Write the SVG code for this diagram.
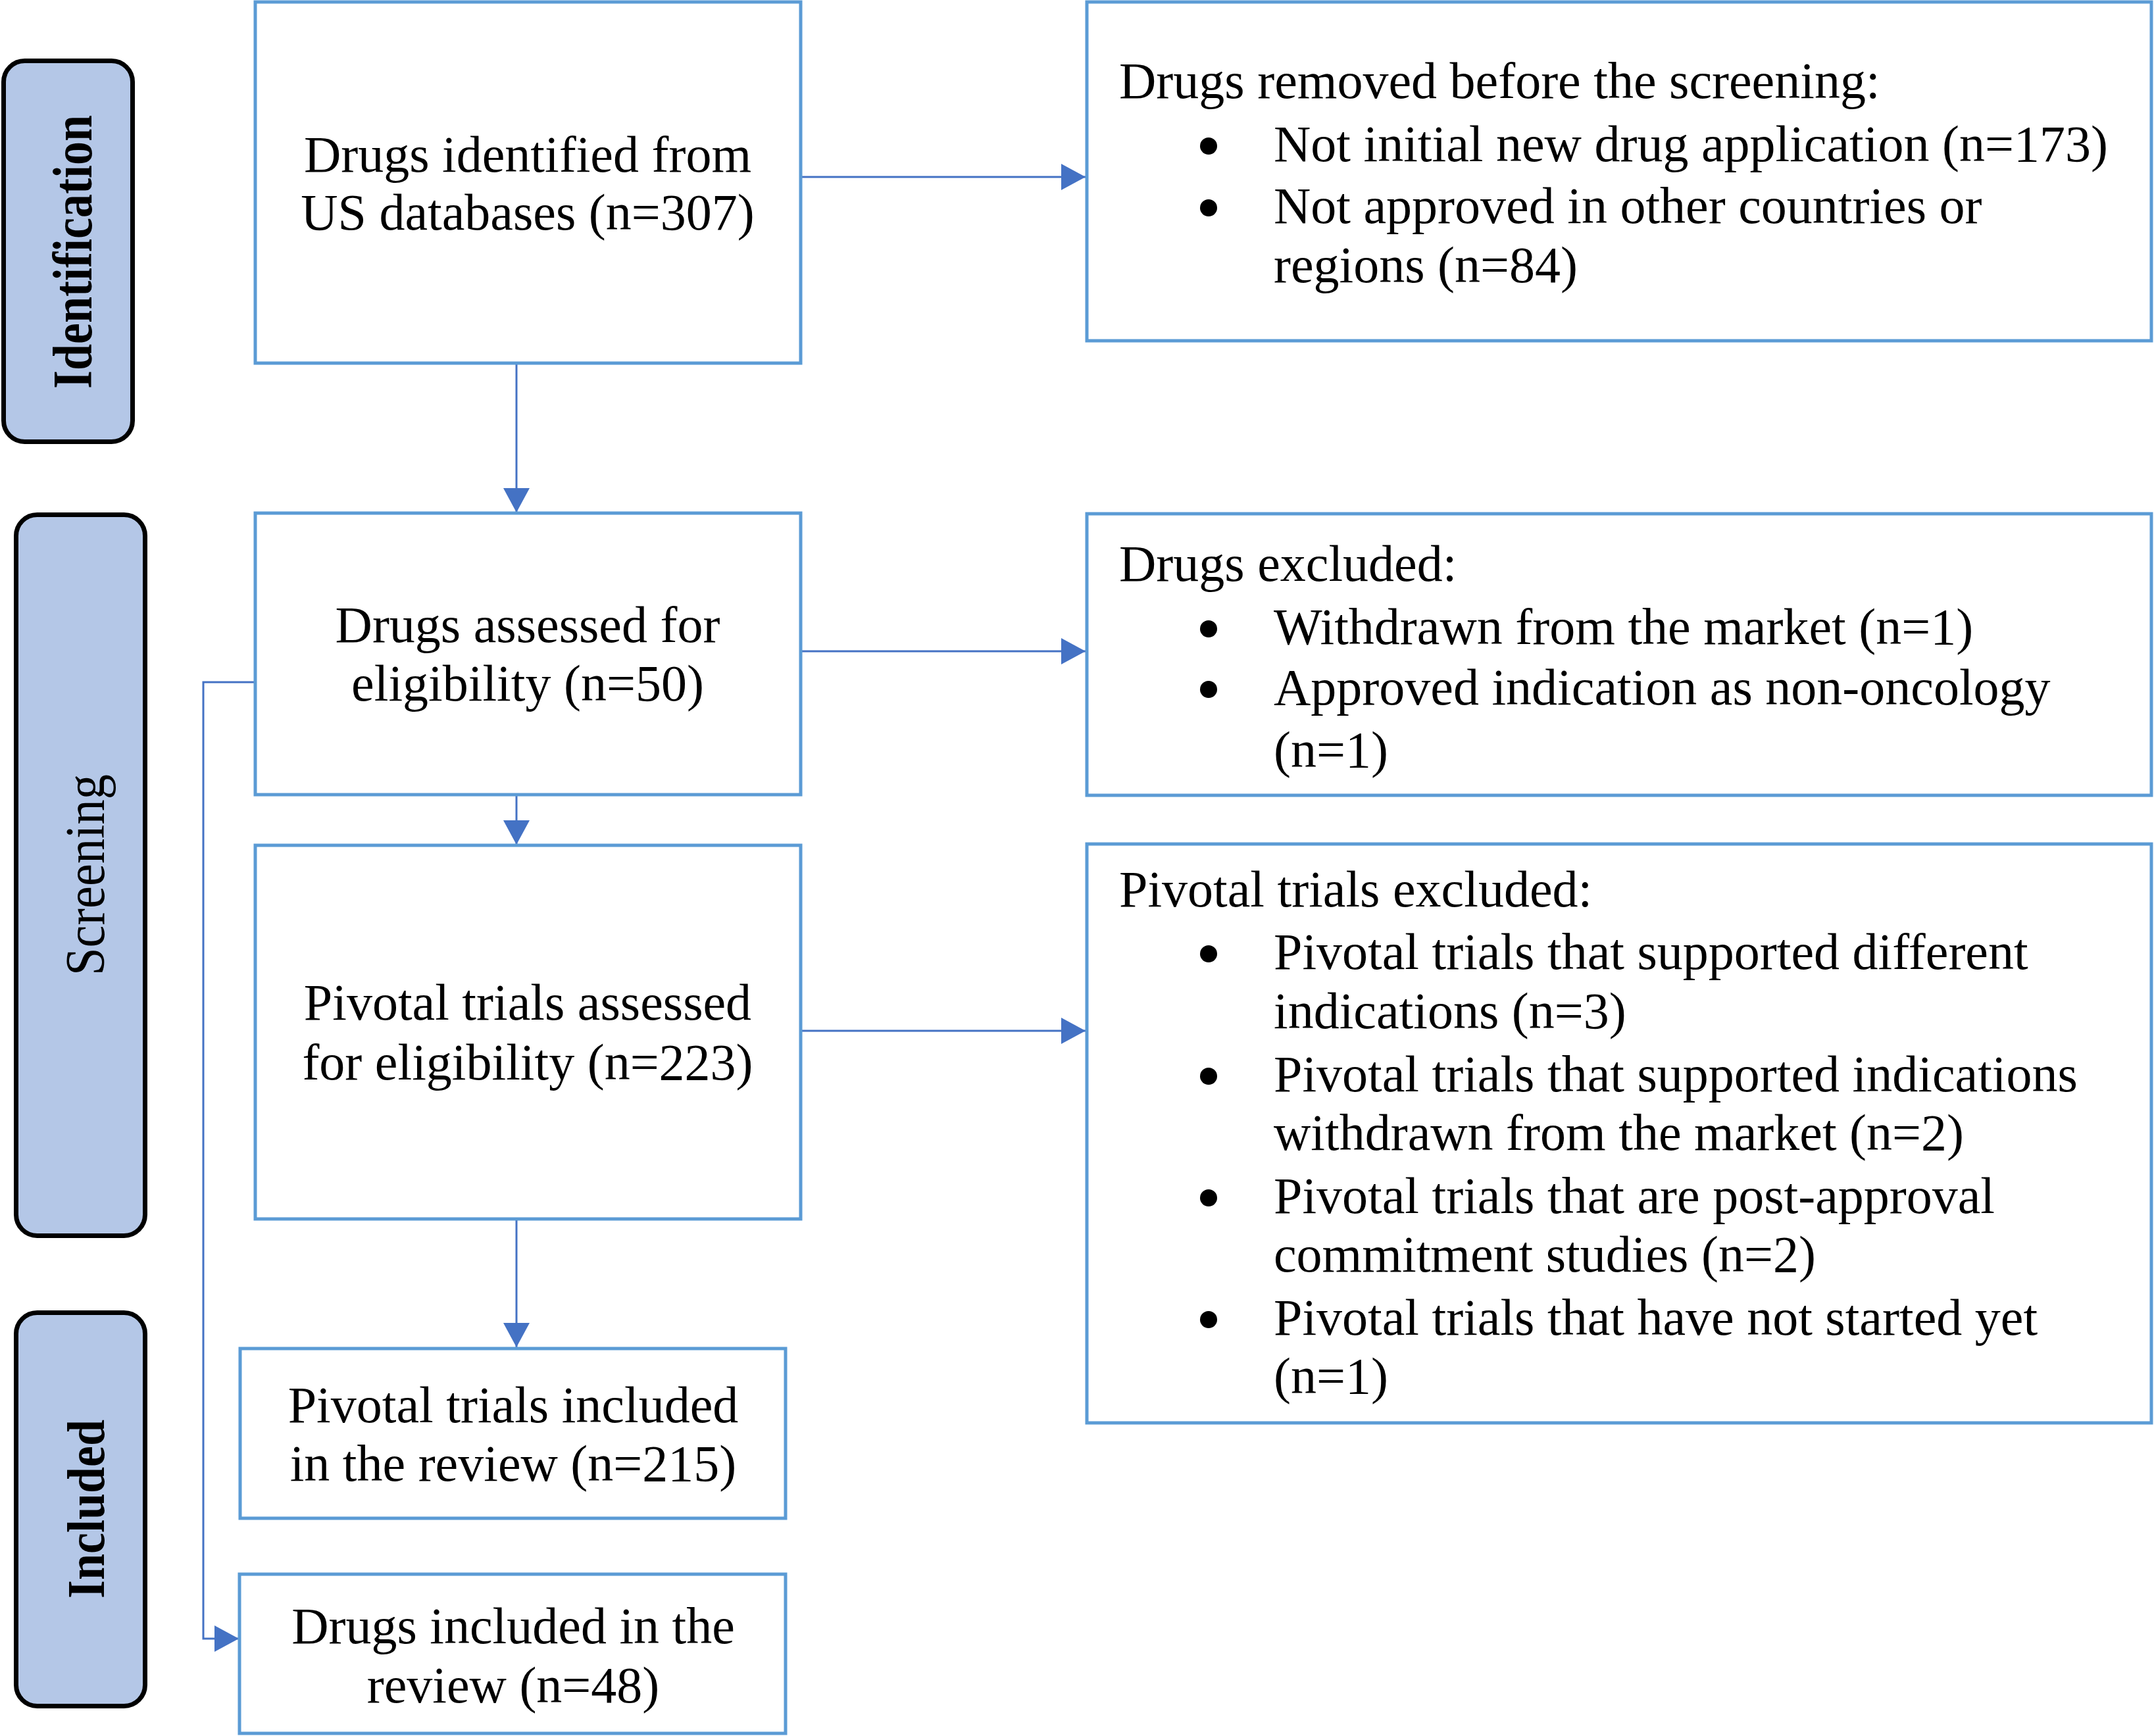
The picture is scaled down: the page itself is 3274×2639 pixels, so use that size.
<svg xmlns="http://www.w3.org/2000/svg" width="3274" height="2639" viewBox="0 0 3274 2639">
<style>
.box{fill:#FFFFFF;stroke:#5B9BD5;stroke-width:5}
.lab{fill:#B4C7E7;stroke:#000000;stroke-width:7}
.t{font-family:"Liberation Serif","Times New Roman",serif;font-size:78px;fill:#000000}
.c{text-anchor:middle}
.lt{font-family:"Liberation Serif","Times New Roman",serif;fill:#000000;text-anchor:middle}
.conn{fill:none;stroke:#4472C4;stroke-width:3}
.dot{fill:#000000}
</style>
<defs>
<marker id="ah" viewBox="0 0 37 40" refX="37" refY="20" markerWidth="37" markerHeight="40" markerUnits="userSpaceOnUse" orient="auto">
<path d="M0,0 L37,20 L0,40 Z" fill="#4472C4"/>
</marker>
</defs>
<rect width="3274" height="2639" fill="#FFFFFF"/>

<g id="label-identification">
<rect class="lab" x="5.5" y="92.5" width="196" height="579" rx="32"/>
<text class="lt" font-weight="bold" font-size="72" transform="translate(139,383) rotate(-90) scale(1,1.17)">Identification</text>
</g>
<g id="label-screening">
<rect class="lab" x="24.5" y="782.5" width="196" height="1096" rx="32"/>
<text class="lt" font-size="76.5" transform="translate(158,1330) rotate(-90) scale(1,1.1)">Screening</text>
</g>
<g id="label-included">
<rect class="lab" x="24.5" y="1995.5" width="196" height="598" rx="32"/>
<text class="lt" font-weight="bold" font-size="72" transform="translate(158,2294) rotate(-90) scale(1,1.13)">Included</text>
</g>

<g id="connectors">
<line class="conn" x1="1217" y1="269" x2="1650" y2="269" marker-end="url(#ah)"/>
<line class="conn" x1="785" y1="552" x2="785" y2="779" marker-end="url(#ah)"/>
<line class="conn" x1="1217" y1="990" x2="1650" y2="990" marker-end="url(#ah)"/>
<line class="conn" x1="785" y1="1208" x2="785" y2="1284" marker-end="url(#ah)"/>
<line class="conn" x1="1217" y1="1567" x2="1650" y2="1567" marker-end="url(#ah)"/>
<line class="conn" x1="785" y1="1853" x2="785" y2="2048" marker-end="url(#ah)"/>
<polyline class="conn" points="388,1037 309,1037 309,2491 363,2491" marker-end="url(#ah)"/>
</g>

<g id="node-identified">
<rect class="box" x="388" y="3" width="829" height="549"/>
<text class="t c" x="802" y="261">Drugs identified from</text>
<text class="t c" x="802" y="349">US databases (n=307)</text>
</g>

<g id="node-removed">
<rect class="box" x="1652" y="3" width="1618" height="515"/>
<text class="t" x="1701" y="149">Drugs removed before the screening:</text>
<circle class="dot" cx="1837" cy="222" r="13"/>
<text class="t" x="1936" y="245">Not initial new drug application (n=173)</text>
<circle class="dot" cx="1837" cy="316" r="13"/>
<text class="t" x="1936" y="339">Not approved in other countries or</text>
<text class="t" x="1936" y="429">regions (n=84)</text>
</g>

<g id="node-assessed-drugs">
<rect class="box" x="388" y="780" width="829" height="428"/>
<text class="t c" x="802" y="976">Drugs assessed for</text>
<text class="t c" x="802" y="1065">eligibility (n=50)</text>
</g>

<g id="node-excluded-drugs">
<rect class="box" x="1652" y="781" width="1618" height="428"/>
<text class="t" x="1701" y="883">Drugs excluded:</text>
<circle class="dot" cx="1837" cy="956" r="13"/>
<text class="t" x="1936" y="979">Withdrawn from the market (n=1)</text>
<circle class="dot" cx="1837" cy="1048" r="13"/>
<text class="t" x="1936" y="1071">Approved indication as non-oncology</text>
<text class="t" x="1936" y="1166">(n=1)</text>
</g>

<g id="node-assessed-trials">
<rect class="box" x="388" y="1285" width="829" height="568"/>
<text class="t c" x="802" y="1550">Pivotal trials assessed</text>
<text class="t c" x="802" y="1641">for eligibility (n=223)</text>
</g>

<g id="node-excluded-trials">
<rect class="box" x="1652" y="1283" width="1618" height="880"/>
<text class="t" x="1701" y="1378">Pivotal trials excluded:</text>
<circle class="dot" cx="1837" cy="1450" r="13"/>
<text class="t" x="1936" y="1473">Pivotal trials that supported different</text>
<text class="t" x="1936" y="1563">indications (n=3)</text>
<circle class="dot" cx="1837" cy="1636" r="13"/>
<text class="t" x="1936" y="1659">Pivotal trials that supported indications</text>
<text class="t" x="1936" y="1748">withdrawn from the market (n=2)</text>
<circle class="dot" cx="1837" cy="1821" r="13"/>
<text class="t" x="1936" y="1844">Pivotal trials that are post-approval</text>
<text class="t" x="1936" y="1933">commitment studies (n=2)</text>
<circle class="dot" cx="1837" cy="2006" r="13"/>
<text class="t" x="1936" y="2029">Pivotal trials that have not started yet</text>
<text class="t" x="1936" y="2118">(n=1)</text>
</g>

<g id="node-included-trials">
<rect class="box" x="365" y="2050" width="829" height="258"/>
<text class="t c" x="780" y="2162">Pivotal trials included</text>
<text class="t c" x="780" y="2251">in the review (n=215)</text>
</g>

<g id="node-included-drugs">
<rect class="box" x="364" y="2393" width="830" height="242"/>
<text class="t c" x="780" y="2498">Drugs included in the</text>
<text class="t c" x="780" y="2588">review (n=48)</text>
</g>
</svg>
